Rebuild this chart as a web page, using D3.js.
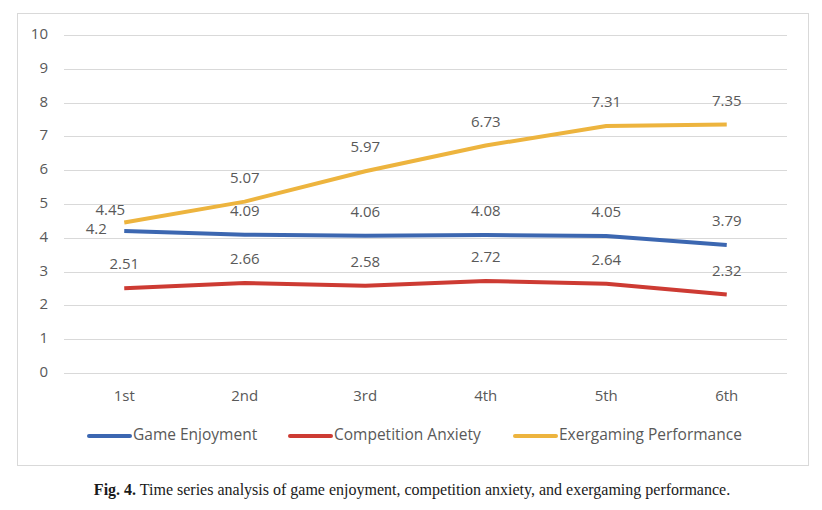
<!DOCTYPE html>
<html>
<head>
<meta charset="utf-8">
<script src="https://cdn.jsdelivr.net/npm/d3@7"></script>
<style>
  body { margin: 0; background: #fff; }
  svg { display: block; }
</style>
</head>
<body>
<svg></svg>
<script>
var sessions = ["1st", "2nd", "3rd", "4th", "5th", "6th"];
var enjoyment = [4.2, 4.09, 4.06, 4.08, 4.05, 3.79];
var anxiety = [2.51, 2.66, 2.58, 2.72, 2.64, 2.32];
var performance = [4.45, 5.07, 5.97, 6.73, 7.31, 7.35];
var yTicks = [0, 1, 2, 3, 4, 5, 6, 7, 8, 9, 10];

var seriesList = [
  { name: "Game Enjoyment", values: enjoyment, color: "#3C67B1" },
  { name: "Competition Anxiety", values: anxiety, color: "#CD3B33" },
  { name: "Exergaming Performance", values: performance, color: "#EDB43E" }
];

var width = 822, height = 510;
var plot = { left: 64, right: 787, top: 35, bottom: 373 };
var font = "'Open Sans', 'Noto Sans', sans-serif";

var svg = d3.select("svg").attr("width", width).attr("height", height);

// chart border
svg.append("rect")
  .attr("x", 17.5).attr("y", 13.5)
  .attr("width", 791).attr("height", 452)
  .attr("fill", "none")
  .attr("stroke", "#d9d9d9")
  .attr("stroke-width", 1);

var x = d3.scaleBand()
  .domain(sessions)
  .range([plot.left, plot.right]);

var y = d3.scaleLinear()
  .domain([0, 10])
  .range([plot.bottom, plot.top]);

// gridlines + y labels
svg.selectAll("line.grid")
  .data(yTicks)
  .enter()
  .append("line")
  .attr("class", "grid")
  .attr("x1", plot.left).attr("x2", plot.right)
  .attr("y1", (d) => Math.round(y(d)) + 0.5)
  .attr("y2", (d) => Math.round(y(d)) + 0.5)
  .attr("stroke", "#d9d9d9")
  .attr("stroke-width", 1);

svg.selectAll("text.ylab")
  .data(yTicks)
  .enter()
  .append("text")
  .attr("class", "ylab")
  .attr("x", 48)
  .attr("y", (d) => y(d))
  .attr("text-anchor", "end")
  .attr("dominant-baseline", "middle")
  .attr("fill", "#595959")
  .style("font-family", font)
  .style("font-size", "15px")
  .text((d) => d);

// x labels
svg.selectAll("text.xlab")
  .data(sessions)
  .enter()
  .append("text")
  .attr("class", "xlab")
  .attr("x", (d) => x(d) + x.bandwidth() / 2)
  .attr("y", 397)
  .attr("text-anchor", "middle")
  .attr("dominant-baseline", "middle")
  .attr("fill", "#595959")
  .style("font-family", font)
  .style("font-size", "15px")
  .text((d) => d);

var cx = (i) => x(sessions[i]) + x.bandwidth() / 2;

var line = d3.line()
  .x((d, i) => cx(i))
  .y((d) => y(d));

seriesList.forEach((s) => {
  svg.append("path")
    .datum(s.values)
    .attr("d", line)
    .attr("fill", "none")
    .attr("stroke", s.color)
    .attr("stroke-width", 4)
    .attr("stroke-linejoin", "round");
});

// data labels (first two points of 1st session are nudged, as in the original)
var labelShift = (si, i) => {
  if (si === 0 && i === 0) return [-28, -1];
  if (si === 2 && i === 0) return [-14, -12];
  return [0, -23];
};

seriesList.forEach((s, si) => {
  svg.selectAll("text.dl" + si)
    .data(s.values)
    .enter()
    .append("text")
    .attr("class", "dl" + si)
    .attr("x", (d, i) => cx(i) + labelShift(si, i)[0])
    .attr("y", (d, i) => y(d) + labelShift(si, i)[1])
    .attr("text-anchor", "middle")
    .attr("dominant-baseline", "middle")
    .attr("fill", "#595959")
    .style("font-family", font)
    .style("font-size", "15px")
    .text((d) => d);
});

// legend
var legendPos = [89, 290, 515];
seriesList.forEach((s, i) => {
  var lx = legendPos[i];
  svg.append("line")
    .attr("x1", lx).attr("x2", lx + 41)
    .attr("y1", 436).attr("y2", 436)
    .attr("stroke", s.color)
    .attr("stroke-width", 4)
    .attr("stroke-linecap", "round");
  svg.append("text")
    .attr("x", lx + 44)
    .attr("y", 436)
    .attr("dominant-baseline", "middle")
    .attr("fill", "#595959")
    .style("font-family", font)
    .style("font-size", "15.5px")
    .text(s.name);
});

// caption
var cap = svg.append("text")
  .attr("x", 412)
  .attr("y", 491)
  .attr("text-anchor", "middle")
  .attr("dominant-baseline", "middle")
  .attr("fill", "#1a1a1a")
  .style("font-family", "'Liberation Serif', 'DejaVu Serif', serif")
  .style("font-size", "16px");
cap.append("tspan").style("font-weight", "bold").text("Fig. 4.");
cap.append("tspan").text("  Time series analysis of game enjoyment, competition anxiety, and exergaming performance.");
</script>
</body>
</html>
